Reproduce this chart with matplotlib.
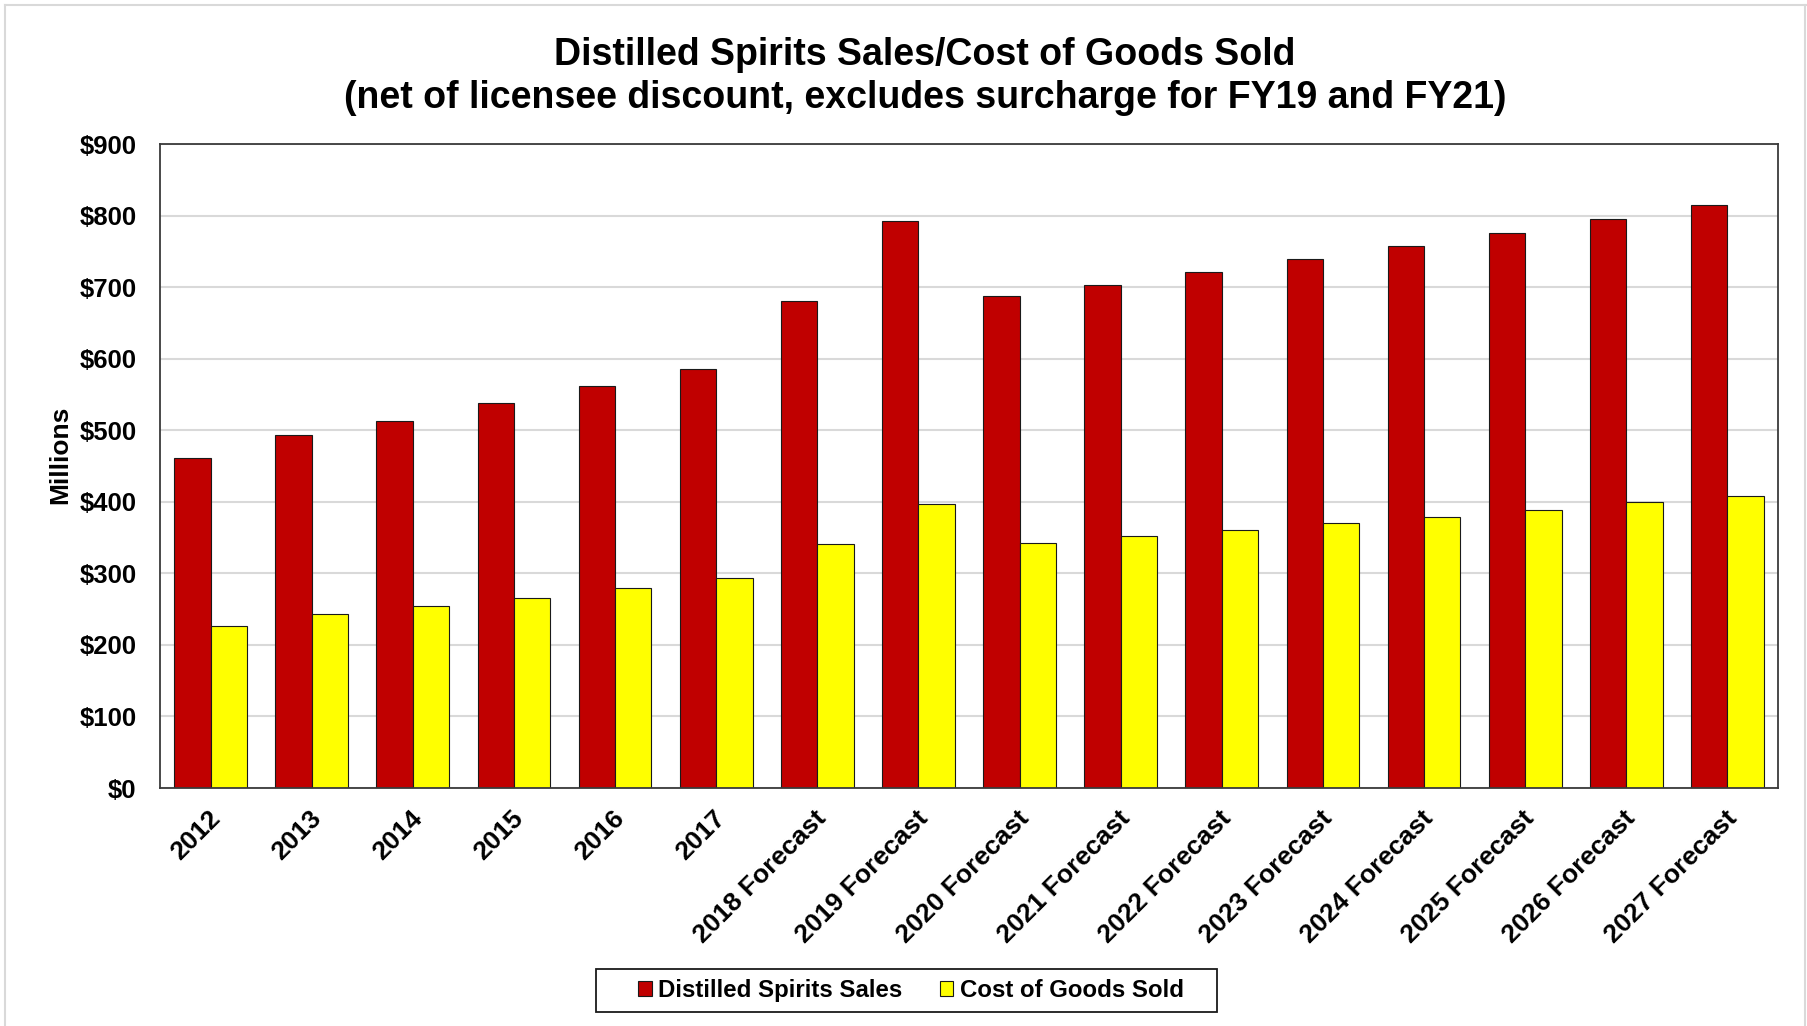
import numpy as np
import matplotlib
matplotlib.use("Agg")
import matplotlib.pyplot as plt
from matplotlib.patches import Patch, Rectangle
from matplotlib.lines import Line2D
from matplotlib.transforms import ScaledTranslation

plt.rcParams['font.family'] = ['Liberation Sans', 'DejaVu Sans']
plt.rcParams['font.weight'] = 'bold'

years = ['2012', '2013', '2014', '2015', '2016', '2017',
         '2018 Forecast', '2019 Forecast', '2020 Forecast', '2021 Forecast',
         '2022 Forecast', '2023 Forecast', '2024 Forecast', '2025 Forecast',
         '2026 Forecast', '2027 Forecast']
# $ millions
sales = [461, 494, 513, 538, 562, 585, 681, 792, 687, 703, 721, 739, 758, 776, 795, 815]
cogs = [227, 243, 254, 266, 280, 293, 341, 397, 343, 352, 361, 370, 379, 388, 399, 408]

W, H, DPI = 1807, 1026, 100
fig = plt.figure(figsize=(W / DPI, H / DPI), dpi=DPI)
ax = fig.add_axes([160 / W, 1 - 788 / H, (1778 - 160) / W, (788 - 144) / H])

x = np.arange(len(years))
bw = 0.36
ax.bar(x - bw / 2, sales, bw, color='#C00000', edgecolor='#1a1a1a', linewidth=0.8,
       label='Distilled Spirits Sales')
ax.bar(x + bw / 2, cogs, bw, color='#FFFF00', edgecolor='#1a1a1a', linewidth=0.8,
       label='Cost of Goods Sold')

ax.set_xlim(-0.5, len(years) - 0.5)
ax.set_ylim(0, 900)
ax.set_yticks(np.arange(0, 901, 100))
ax.set_yticklabels(['$%d' % v for v in range(0, 901, 100)], fontsize=18.5, fontweight='bold')
ax.tick_params(axis='y', length=0, pad=17)
ax.set_axisbelow(True)
ax.yaxis.grid(True, color='#d9d9d9', linewidth=1.5)

ax.set_xticks(x)
ax.set_xticklabels(years, fontsize=19, fontweight='bold', rotation=45,
                   ha='right', va='top', rotation_mode='anchor')
ax.tick_params(axis='x', length=0, pad=13)
shift = ScaledTranslation(-3 / DPI, 0, fig.dpi_scale_trans)
for lbl in ax.get_xticklabels():
    lbl.set_transform(lbl.get_transform() + shift)

for s in ax.spines.values():
    s.set_color('#3a3a3a')
    s.set_linewidth(1.3)

fig.text(60 / W, 1 - 455 / H, 'Millions', rotation=90, ha='center', va='center',
         fontsize=19, fontweight='bold')

fig.text(925 / W, 1 - 65 / H, 'Distilled Spirits Sales/Cost of Goods Sold',
         ha='center', va='baseline', fontsize=27, fontweight='bold')
fig.text(925 / W, 1 - 108 / H,
         '(net of licensee discount, excludes surcharge for FY19 and FY21)',
         ha='center', va='baseline', fontsize=27, fontweight='bold')

# legend box and entries
fig.add_artist(Rectangle((596 / W, 1 - 1012 / H), 621 / W, 43 / H,
                         transform=fig.transFigure, fill=False,
                         edgecolor='#1a1a1a', linewidth=1.3))
handles = [Patch(facecolor='#C00000', edgecolor='#1a1a1a', linewidth=0.8),
           Patch(facecolor='#FFFF00', edgecolor='#1a1a1a', linewidth=0.8)]
fig.legend(handles, ['Distilled Spirits Sales', 'Cost of Goods Sold'],
           loc='center', bbox_to_anchor=(911 / W, 1 - 990.5 / H), ncol=2,
           frameon=False, handlelength=0.55, handleheight=0.55,
           handletextpad=0.28, columnspacing=1.55,
           prop={'weight': 'bold', 'size': 17.3})

# outer chart border (left, top, right)
border = dict(color='#d9d9d9', linewidth=1.5, transform=fig.transFigure)
fig.add_artist(Line2D([5 / W, 5 / W], [0, 1 - 5 / H], **border))
fig.add_artist(Line2D([5 / W, 1806 / W], [1 - 5 / H, 1 - 5 / H], **border))
fig.add_artist(Line2D([1805 / W, 1805 / W], [0, 1 - 5 / H], **border))

fig.savefig('out.png', dpi=DPI)
